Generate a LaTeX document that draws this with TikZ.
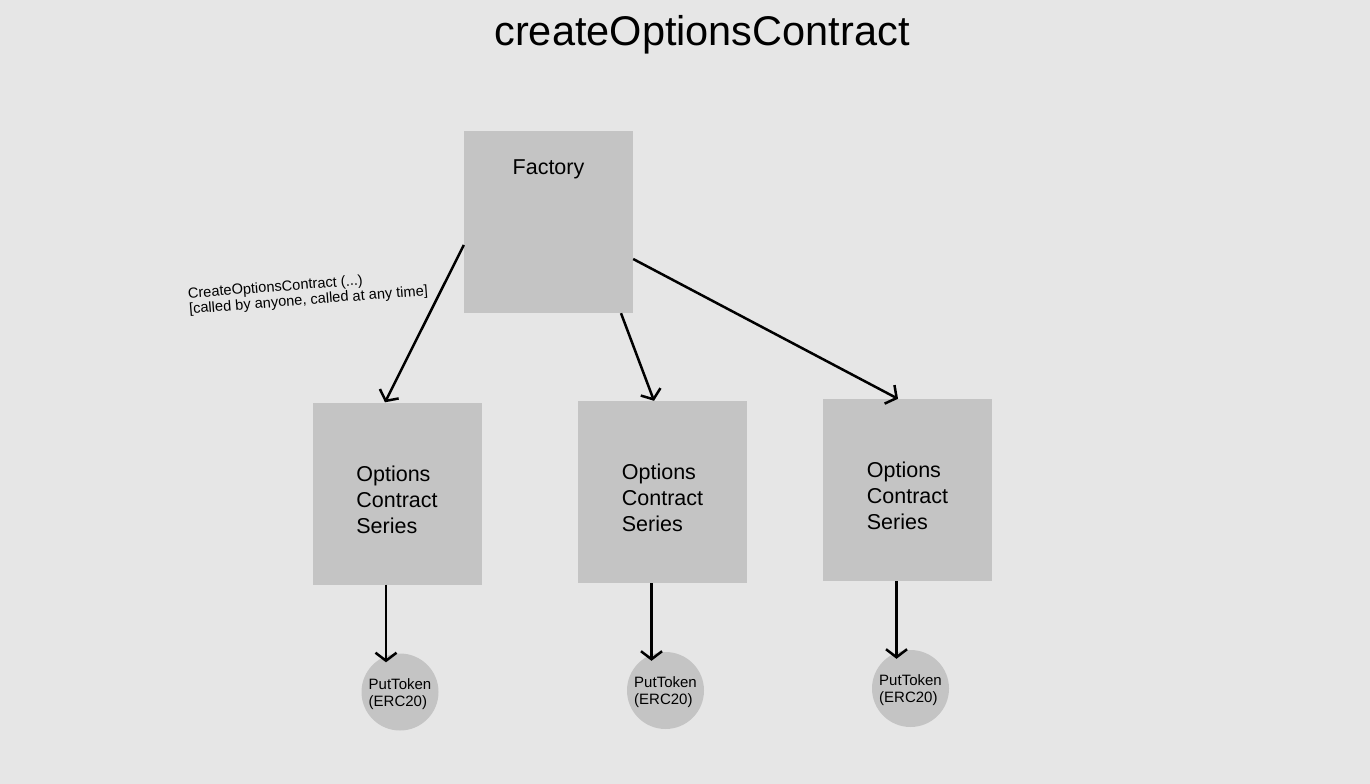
\documentclass[tikz,border=0pt]{standalone}
\usepackage{fontspec}
\setmainfont{Liberation Sans}
\usepackage{tikz}
\usetikzlibrary{positioning, arrows.meta}
\definecolor{bggray}{HTML}{E6E6E6}
\definecolor{boxgray}{HTML}{C4C4C4}
\tikzstyle{block} = [rectangle, fill=boxgray, minimum width=169pt,
                 minimum height=182pt, inner sep=0pt]
\tikzset{
	token/.style={circle, fill=boxgray, minimum size=77pt, inner sep=0pt},
	tokenname/.style={align=left, font=\fontsize{15}{17}\selectfont},
	seriesname/.style={align=left, font=\fontsize{21.5}{26}\selectfont},
	link/.style={line width=2.5pt, -{Straight Barb[length=8pt,width=21pt]}},
}
\begin{document}
\begin{tikzpicture}[x=1pt, y=-1pt]

\fill[bggray] (0,0) rectangle (1370,784);
\useasboundingbox (0,0) rectangle (1370,784);

\node (title) at (702,35) {\fontsize{41.5}{45}\selectfont createOptionsContract};

\node [block] at (548.5,222) (factory) {};
\node (factoryname) at ([yshift=-39pt]factory.north) {\fontsize{21.5}{26}\selectfont Factory};

    	%series and their tokens
\foreach \i/\x/\y in {1/397/493.5, 2/662.5/492, 3/907.5/490} {
	\node [block] at (\x,\y) (series\i) {};
	\node [seriesname] at ([yshift=-6pt]series\i.center) (seriesname\i) {Options\\Contract\\Series};
	\node [token] at ({\x+3},{\y+198.5}) (token\i) {};
	\node [tokenname] at ([yshift=-2pt]token\i.center) (tokenname\i) {PutToken\\(ERC20)};
	\draw [link] ([xshift=-14pt]token\i.north |- series\i.south) -- ([xshift=-14pt,yshift=-9pt]token\i.north);
}

\draw [link] ([yshift=-23pt]factory.west) -- ([xshift=-12pt]series1.north);
\draw [link] ([xshift=72.5pt]factory.south) -- ([xshift=-8.5pt]series2.north);
\draw [link] ([yshift=-37pt]factory.east) -- ([xshift=-9.5pt]series3.north);

\node [rotate=4.5, align=left, font=\fontsize{14.6}{15.5}\selectfont] at (308,293) (calllabel)
	{CreateOptionsContract (...)\\{[}called by anyone, called at any time{]}};

\end{tikzpicture}
\end{document}
